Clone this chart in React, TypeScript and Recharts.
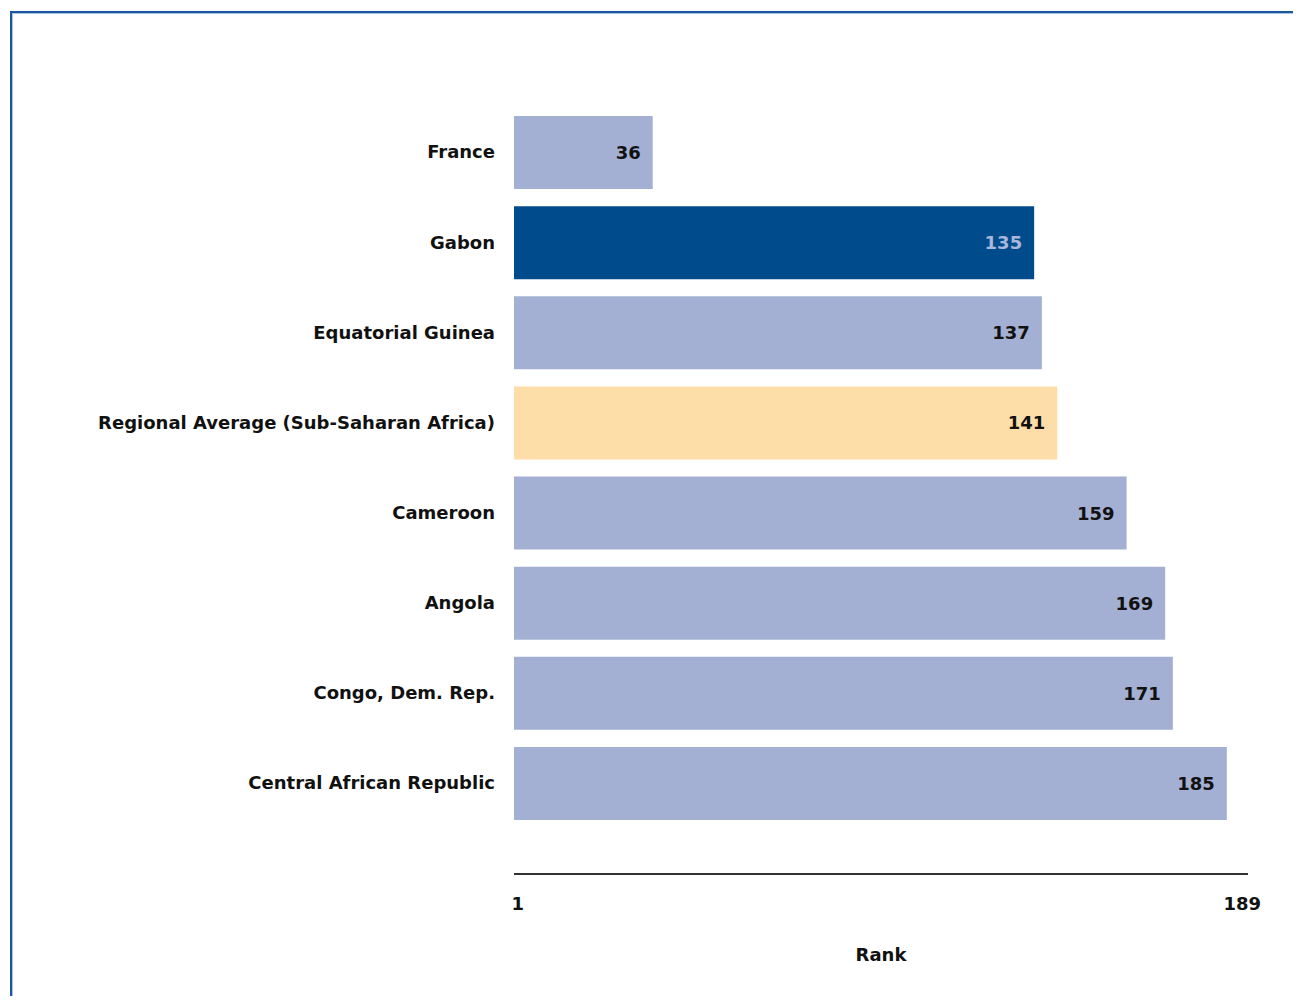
import { BarChart, Bar, XAxis, YAxis, Cell, LabelList } from 'recharts'

const countries = [
  'France',
  'Gabon',
  'Equatorial Guinea',
  'Regional Average (Sub-Saharan Africa)',
  'Cameroon',
  'Angola',
  'Congo, Dem. Rep.',
  'Central African Republic',
]
const ranks = [36, 135, 137, 141, 159, 169, 171, 185]
const rankTicks = [1, 189]

const FONT = '"DejaVu Sans", Verdana, sans-serif'
const LIGHT = '#a4b0d3'
const DARK = '#004b8c'
const REGION = '#fedea8'

const data = countries.map((name, i) => ({ name, rank: ranks[i] }))

function barColor(name: string) {
  if (name === 'Gabon') return DARK
  if (name.startsWith('Regional')) return REGION
  return LIGHT
}

function ValueLabel(props: any) {
  const { x, y, width, height, value, index } = props
  const name = countries[index]
  return (
    <text
      x={x + width - 12}
      y={y + height / 2}
      textAnchor="end"
      dominantBaseline="central"
      fontFamily={FONT}
      fontWeight="bold"
      fontSize={18}
      fill={name === 'Gabon' ? '#a9b7da' : '#111'}
    >
      {value}
    </text>
  )
}

export default function App() {
  return (
    <div style={{ margin: -8, width: 1301, height: 1004, position: 'relative', overflow: 'hidden', background: '#fff' }}>
      <div
        style={{
          position: 'absolute', left: 10, top: 11, width: 1400, height: 1100,
          border: '2px solid #1b579e', boxShadow: 'inset 1px 1px 0 #a9c3e3',
        }}
      />
      <div style={{ position: 'absolute', left: 0, top: 0 }}>
        <BarChart
          width={1301}
          height={1004}
          layout="vertical"
          data={data}
          margin={{ top: 107, right: 53, left: 0, bottom: 24 }}
          barSize={73}
        >
          <XAxis
            type="number"
            domain={[0, 190.5]}
            ticks={rankTicks}
            tickLine={false}
            axisLine={{ stroke: '#333', strokeWidth: 2 }}
            tick={{ fontFamily: FONT, fontWeight: 'bold', fontSize: 18, fill: '#111' }}
            tickMargin={17}
            height={106}
            label={{ value: 'Rank', position: 'insideBottom', offset: 19, fontFamily: FONT, fontWeight: 'bold', fontSize: 18, fill: '#111' }}
          />
          <YAxis
            type="category"
            dataKey="name"
            width={514}
            axisLine={false}
            tickLine={false}
            tickMargin={13}
            padding={{ top: 0, bottom: 46 }}
            interval={0}
            tick={{ fontFamily: FONT, fontWeight: 'bold', fontSize: 18, fill: '#111' }}
          />
          <Bar dataKey="rank" isAnimationActive={false}>
            {data.map((d) => (
              <Cell key={d.name} fill={barColor(d.name)} />
            ))}
            <LabelList dataKey="rank" content={<ValueLabel />} />
          </Bar>
        </BarChart>
      </div>
    </div>
  )
}
